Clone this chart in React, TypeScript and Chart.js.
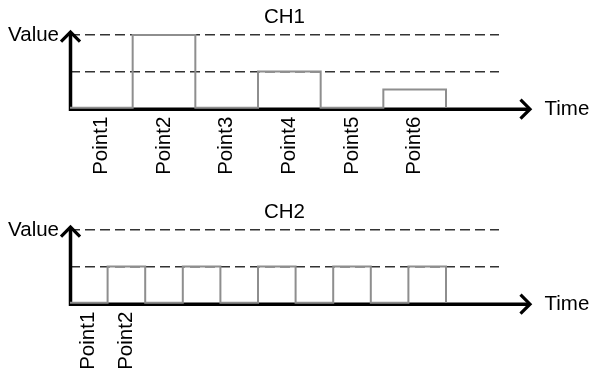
import React, { useEffect, useRef } from "react";
import { Chart, registerables } from "chart.js";
Chart.register(...registerables);

const ch1Labels = ["Point1", "Point2", "Point3", "Point4", "Point5", "Point6"];
const ch1Values = [0, 2, 0, 1, 0, 0.5];
const ch2Labels = ["Point1", "Point2"];
const ch2Values = [0, 1, 0, 1, 0, 1, 0, 1, 0, 1];
const levelTicks = [0, 1, 2];
const yAxisName = "Value";
const xAxisName = "Time";

const FONT = "'Liberation Sans', Arial, sans-serif";
const FONT_SIZE = 20.5;
const W = 590;
const H = 175;
const LEFT = 70;
const RIGHT_PAD = 91;
const BASE = 107.7;
const SIGNAL_PX = 376;
const PLOT_PX = W - RIGHT_PAD - LEFT;

const axesPlugin = {
  id: "axesArrows",
  beforeDatasetsDraw(chart: any) {
    const { ctx } = chart;
    const ys = chart.scales.y;
    const yTop = ys.getPixelForValue(levelTicks[levelTicks.length - 1]) - 3;
    const yBase = ys.getPixelForValue(0) + 1.5;
    const xAxis = LEFT + 0.5;
    const xTip = 530;
    ctx.save();
    ctx.strokeStyle = "#000";
    ctx.lineWidth = 3.5;
    ctx.lineJoin = "miter";
    ctx.lineCap = "butt";
    ctx.beginPath();
    ctx.moveTo(xAxis, yBase + 1.5);
    ctx.lineTo(xAxis, yTop + 1);
    ctx.moveTo(xAxis - 1.7, yBase);
    ctx.lineTo(xTip - 1, yBase);
    ctx.stroke();
    ctx.lineWidth = 3.2;
    ctx.beginPath();
    ctx.moveTo(xAxis - 9.5, yTop + 9.5);
    ctx.lineTo(xAxis, yTop);
    ctx.lineTo(xAxis + 9.5, yTop + 9.5);
    ctx.stroke();
    ctx.beginPath();
    ctx.moveTo(xTip - 9.5, yBase - 9.5);
    ctx.lineTo(xTip, yBase);
    ctx.lineTo(xTip - 9.5, yBase + 9.5);
    ctx.stroke();
    ctx.restore();
  },
  afterDraw(chart: any) {
    const { ctx } = chart;
    const ys = chart.scales.y;
    const yTop = ys.getPixelForValue(levelTicks[levelTicks.length - 1]);
    const yBase = ys.getPixelForValue(0) + 1.5;
    ctx.save();
    ctx.fillStyle = "#000";
    ctx.font = `${FONT_SIZE}px ${FONT}`;
    ctx.textBaseline = "middle";
    ctx.textAlign = "right";
    ctx.fillText(yAxisName, 59, yTop + 0.5);
    ctx.textAlign = "left";
    ctx.fillText(xAxisName, 544.5, yBase);
    ctx.restore();
  },
};

function makeConfig(title: string, labels: string[], values: number[]): any {
  const points = values.map((v, i) => ({ x: i, y: v }));
  points.push({ x: values.length, y: 0 });
  const xMax = (values.length * PLOT_PX) / SIGNAL_PX;
  return {
    type: "line",
    data: {
      datasets: [
        {
          data: points,
          stepped: true,
          borderColor: "#8e8e8e",
          borderWidth: 2,
          pointRadius: 0,
          fill: false,
          clip: false,
        },
      ],
    },
    options: {
      responsive: false,
      animation: false,
      events: [],
      layout: { padding: { left: 0, right: RIGHT_PAD, top: 0, bottom: 0 } },
      plugins: {
        legend: { display: false },
        tooltip: { enabled: false },
        title: {
          display: true,
          text: title,
          fullSize: false,
          color: "#000",
          font: { family: FONT, size: FONT_SIZE, weight: "normal", lineHeight: 1.2 },
          padding: { top: 5.5, bottom: 5 },
        },
      },
      scales: {
        x: {
          type: "linear",
          min: 0,
          max: xMax,
          position: "bottom",
          grid: { display: false, drawTicks: false },
          border: { display: false },
          afterBuildTicks: (s: any) => {
            s.ticks = labels.map((_, i) => ({ value: i + 0.5 }));
          },
          afterFit: (s: any) => {
            s.height = H - BASE;
          },
          ticks: {
            autoSkip: false,
            minRotation: 90,
            maxRotation: 90,
            padding: 9,
            color: "#000",
            font: { family: FONT, size: FONT_SIZE },
            callback: (_v: any, i: number) => labels[i],
          },
        },
        y: {
          type: "linear",
          min: levelTicks[0],
          max: levelTicks[levelTicks.length - 1],
          position: "left",
          afterBuildTicks: (s: any) => {
            s.ticks = levelTicks.map((v) => ({ value: v }));
          },
          afterFit: (s: any) => {
            s.width = LEFT;
          },
          ticks: { display: false },
          grid: {
            drawTicks: false,
            lineWidth: 1.4,
            color: (c: any) =>
              c.tick && c.tick.value === 0 ? "rgba(0,0,0,0)" : "#333",
          },
          border: { display: false, dash: [10, 5] },
        },
      },
    },
    plugins: [axesPlugin],
  };
}

function StepChart({ title, labels, values, top }: any) {
  const ref = useRef<HTMLCanvasElement | null>(null);
  useEffect(() => {
    if (!ref.current) return;
    const chart = new Chart(ref.current, makeConfig(title, labels, values));
    return () => chart.destroy();
  }, [title, labels, values]);
  return (
    <canvas
      ref={ref}
      width={W}
      height={H}
      style={{ position: "absolute", left: 0, top, width: W, height: H }}
    />
  );
}

export default function App() {
  return (
    <div
      style={{
        position: "absolute",
        left: 0,
        top: 0,
        width: W,
        height: 370,
        background: "#fff",
      }}
    >
      <StepChart title="CH1" labels={ch1Labels} values={ch1Values} top={0} />
      <StepChart title="CH2" labels={ch2Labels} values={ch2Values} top={195} />
    </div>
  );
}
